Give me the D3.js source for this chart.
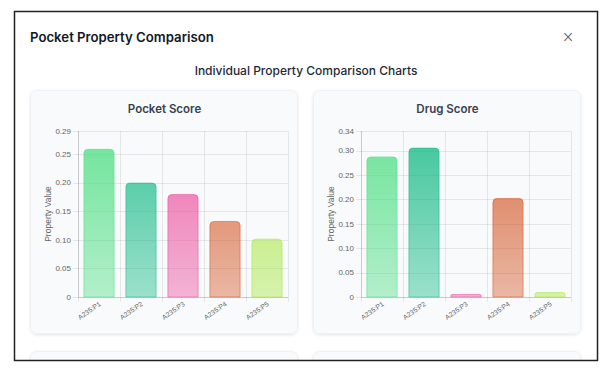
<!DOCTYPE html>
<html><head><meta charset="utf-8">
<script src="https://cdn.jsdelivr.net/npm/d3@7"></script>
<style>
html,body{margin:0;padding:0;background:#fff;}
svg{display:block;}
</style></head>
<body>
<svg id="c" width="608" height="377"></svg>
<script>
const pageTitle = "Pocket Property Comparison";
const subTitle = "Individual Property Comparison Charts";
const categories = ["A235:P1","A235:P2","A235:P3","A235:P4","A235:P5"];
const barColors = ["#4ade80","#10b981","#ec4899","#d4521f","#a3e635"];
const pocketScore = [0.258, 0.199, 0.179, 0.132, 0.101];
const drugScore = [0.287, 0.305, 0.005, 0.202, 0.009];
const pocketTicks = [0, 0.05, 0.10, 0.15, 0.20, 0.25, 0.29];
const drugTicks = [0, 0.05, 0.10, 0.15, 0.20, 0.25, 0.30, 0.34];
const charts = [
  {title:"Pocket Score", values:pocketScore, ticks:pocketTicks, max:0.29},
  {title:"Drug Score", values:drugScore, ticks:drugTicks, max:0.34}
];

const svg = d3.select("#c");
const defs = svg.append("defs");
defs.append("clipPath").attr("id","frame").append("rect")
  .attr("x",14).attr("y",11).attr("width",584).attr("height",350);
const sh = defs.append("filter").attr("id","sh").attr("x","-10%").attr("y","-10%").attr("width","120%").attr("height","130%");
sh.append("feDropShadow").attr("dx",0).attr("dy",1).attr("stdDeviation",1.5).attr("flood-color","#000").attr("flood-opacity",0.10);

svg.append("rect").attr("width",608).attr("height",377).attr("fill","#fff");
const frame = svg.append("g").attr("clip-path","url(#frame)");

frame.append("text").attr("x",30).attr("y",42)
  .attr("font-family","Inter, sans-serif").attr("font-size",13.2).attr("font-weight",600)
  .attr("fill","#111827").text(pageTitle);
frame.append("text").attr("x",568).attr("y",42).attr("text-anchor","middle")
  .attr("font-family","'DejaVu Sans', sans-serif").attr("font-size",15).attr("font-weight",300)
  .attr("fill","#374151").text("×");
frame.append("text").attr("x",306).attr("y",75).attr("text-anchor","middle")
  .attr("font-family","Inter, sans-serif").attr("font-size",12).attr("font-weight",500)
  .attr("fill","#1f2937").text(subTitle);

const cardX = [30, 313];
const cardW = 267;
cardX.forEach(x=>{
  frame.append("rect").attr("x",x+0.5).attr("y",351.5).attr("width",cardW).attr("height",120)
    .attr("rx",6).attr("fill","#f8fafc").attr("stroke","#eef1f5").attr("filter","url(#sh)");
});

charts.forEach((c,i)=>{
  const cx = cardX[i];
  const g = frame.append("g");
  g.append("rect").attr("x",cx+0.5).attr("y",90.5).attr("width",cardW).attr("height",243)
    .attr("rx",6).attr("fill","#f8fafc").attr("stroke","#eef1f5").attr("filter","url(#sh)");
  g.append("text").attr("x",cx+cardW/2+1).attr("y",113).attr("text-anchor","middle")
    .attr("font-family","Inter, sans-serif").attr("font-size",11.5).attr("font-weight",600)
    .attr("fill","#374151").text(c.title);

  const left = cx+48, right = cx+cardW-9, top = 131, bottom = 297;
  const x = d3.scaleBand().domain(categories).range([left,right]).paddingInner(0).paddingOuter(0);
  const y = d3.scaleLinear().domain([0,c.max]).range([bottom,top]);

  const gid = "g"+i;
  barColors.forEach((col,k)=>{
    const lg = defs.append("linearGradient").attr("id",gid+"_"+k)
      .attr("gradientUnits","userSpaceOnUse").attr("x1",0).attr("x2",0).attr("y1",top).attr("y2",bottom);
    lg.append("stop").attr("offset","0%").attr("stop-color",col).attr("stop-opacity",0.8);
    lg.append("stop").attr("offset","100%").attr("stop-color",col).attr("stop-opacity",0.4);
  });

  const grid = "rgba(0,0,0,0.08)";
  g.selectAll(".hg").data(c.ticks).enter().append("line")
    .attr("x1",left-5).attr("x2",right).attr("y1",d=>Math.round(y(d))+0.5).attr("y2",d=>Math.round(y(d))+0.5)
    .attr("stroke",grid).attr("stroke-width",1);
  const edges = categories.map(d=>x(d)).concat([right]);
  g.selectAll(".vg").data(edges).enter().append("line")
    .attr("x1",d=>Math.round(d)+0.5).attr("x2",d=>Math.round(d)+0.5).attr("y1",top).attr("y2",bottom+5)
    .attr("stroke",grid).attr("stroke-width",1);
  g.append("line").attr("x1",Math.round(left)+0.5).attr("x2",Math.round(left)+0.5).attr("y1",top).attr("y2",bottom)
    .attr("stroke","rgba(0,0,0,0.12)");
  g.append("line").attr("x1",left).attr("x2",right).attr("y1",Math.round(bottom)+0.5).attr("y2",Math.round(bottom)+0.5)
    .attr("stroke","rgba(0,0,0,0.12)");

  g.selectAll(".yt").data(c.ticks).enter().append("text")
    .attr("x",left-7).attr("y",d=>y(d)).attr("dy","0.35em").attr("text-anchor","end")
    .attr("font-family","'Liberation Sans', Arial, sans-serif").attr("font-size",8).attr("fill","#666")
    .text(d=> d===0 ? "0" : d3.format(".2f")(d));

  g.append("text").attr("transform",`translate(${cx+18},${(top+bottom)/2}) rotate(-90)`)
    .attr("text-anchor","middle").attr("dy","0.35em")
    .attr("font-family","'Liberation Sans', Arial, sans-serif").attr("font-size",8.5).attr("fill","#666")
    .text("Property Value");

  g.selectAll(".xt").data(categories).enter().append("text")
    .attr("transform",d=>`translate(${x(d)+x.bandwidth()/2+1},${bottom+6}) rotate(-35)`)
    .attr("text-anchor","end").attr("dy","0.35em")
    .attr("font-family","'Liberation Sans', Arial, sans-serif").attr("font-size",6.8).attr("fill","#666")
    .text(d=>d);

  const bw = x.bandwidth()*0.72;
  const r = 4;
  const barPath = (x0,y0,w,h)=>{
    const rr = Math.min(r, h/2, w/2);
    return `M${x0},${y0+h} L${x0},${y0+rr} Q${x0},${y0} ${x0+rr},${y0} L${x0+w-rr},${y0} Q${x0+w},${y0} ${x0+w},${y0+rr} L${x0+w},${y0+h} Z`;
  };
  g.selectAll(".bar").data(c.values).enter().append("path")
    .attr("d",(d,k)=>{
      const x0 = x(categories[k]) + (x.bandwidth()-bw)/2;
      const y0 = y(d);
      return barPath(x0,y0,bw,bottom-y0);
    })
    .attr("fill",(d,k)=>`url(#${gid}_${k})`)
    .attr("stroke",(d,k)=>barColors[k]).attr("stroke-opacity",0.5).attr("stroke-width",1);
});

svg.append("rect").attr("x",14.5).attr("y",11.5).attr("width",583).attr("height",349)
  .attr("fill","none").attr("stroke","#222").attr("stroke-width",1.5);
</script>
</body></html>
